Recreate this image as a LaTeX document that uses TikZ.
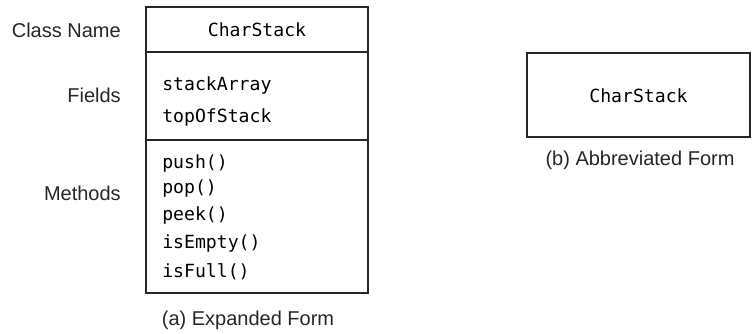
\documentclass[tikz,border=0pt]{standalone}
\usepackage{fontspec}
\setmainfont{Liberation Sans}
\newfontfamily\codefont{DejaVu Sans Mono}
\begin{document}
\begin{tikzpicture}[x=0.75pt,y=-0.75pt,
  boxline/.style={draw=black!85,line width=0.8pt},
  code/.style={font=\codefont\fontsize{13.6pt}{15pt}\selectfont,inner sep=0pt,text=black},
  lab/.style={font=\fontsize{15pt}{17pt}\selectfont,inner sep=0pt,text=black!85}]
\useasboundingbox (0,0) rectangle (754,333);
% expanded form
\draw[boxline] (146,7) rectangle (368,293);
\draw[boxline] (146,52) -- (368,52);
\draw[boxline] (146,140) -- (368,140);
\node[code,anchor=base] (cn) at (257,36) {CharStack};
\node[code,anchor=base west] (f1) at (162,90) {stackArray};
\node[code,anchor=base west] (f2) at (162,122) {topOfStack};
\node[code,anchor=base west] (m1) at (162,168) {push()};
\node[code,anchor=base west] (m2) at (162,193) {pop()};
\node[code,anchor=base west] (m3) at (162,220) {peek()};
\node[code,anchor=base west] (m4) at (162,248) {isEmpty()};
\node[code,anchor=base west] (m5) at (162,277) {isFull()};
% labels
\node[lab,anchor=east] (lcn) at (121,30) {Class Name};
\node[lab,anchor=east] (lf) at (121,95) {Fields};
\node[lab,anchor=east] (lm) at (121,193) {Methods};
\node[lab] (capa) at (248,320) {(a) Expanded Form};
% abbreviated form
\draw[boxline] (527,53) rectangle (750,137);
\node[code,anchor=base] (cn2) at (638.5,102) {CharStack};
\node[lab] (capb) at (640,160) {(b) Abbreviated Form};
\end{tikzpicture}
\end{document}
